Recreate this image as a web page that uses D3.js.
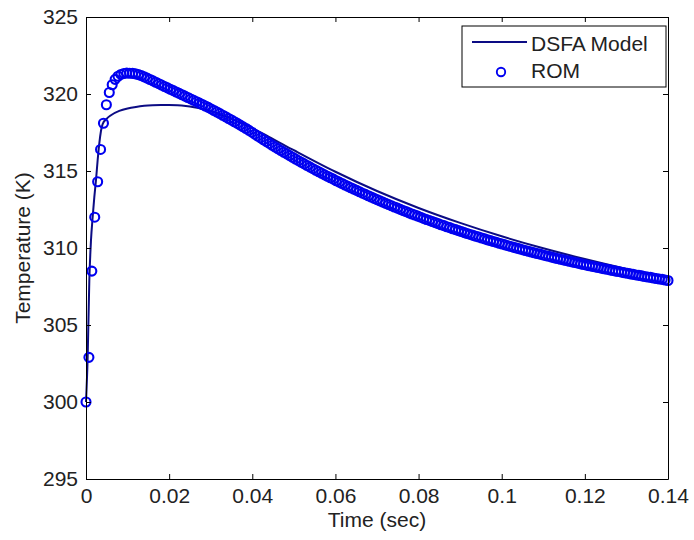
<!DOCTYPE html>
<html>
<head>
<meta charset="utf-8">
<script src="https://cdn.jsdelivr.net/npm/d3@7"></script>
<style>
  body { margin: 0; background: #fff; }
  text { font-family: Arial, "Liberation Sans", sans-serif; }
</style>
</head>
<body>
<svg id="chart" width="694" height="540"></svg>
<script>
const xTicks = [0, 0.02, 0.04, 0.06, 0.08, 0.1, 0.12, 0.14];
const xTickLabels = ["0", "0.02", "0.04", "0.06", "0.08", "0.1", "0.12", "0.14"];
const yTicks = [295, 300, 305, 310, 315, 320, 325];
const seriesNames = ["DSFA Model", "ROM"];

// DSFA model curve (sec, K)
const modelTime = [0, 0.0004, 0.0008, 0.0012, 0.0016, 0.002, 0.0024, 0.0028, 0.0032, 0.0036,
  0.004, 0.005, 0.006, 0.008, 0.01, 0.012, 0.014, 0.016, 0.018, 0.02,
  0.022, 0.024, 0.026, 0.028, 0.03, 0.032, 0.035, 0.04, 0.044, 0.05,
  0.06, 0.07, 0.08, 0.09, 0.1, 0.11, 0.12, 0.13, 0.14];
const modelTemp = [300.0, 302.9, 307.9, 310.5, 312.0, 313.3, 314.4, 315.7, 316.8, 317.6,
  318.05, 318.4, 318.62, 318.9, 319.06, 319.16, 319.23, 319.27, 319.29, 319.29,
  319.27, 319.22, 319.14, 319.03, 318.88, 318.7, 318.38, 317.78, 317.22, 316.35,
  314.95, 313.7, 312.6, 311.63, 310.76, 309.98, 309.28, 308.64, 308.08];

// ROM samples, one every romStep seconds from t = 0
const romStep = 0.0007;
const romTemp = [
  300.0, 302.9, 308.5, 312.0, 314.3, 316.4, 318.1, 319.3, 320.1, 320.6,
  320.95, 321.15, 321.27, 321.33, 321.36, 321.35, 321.34, 321.31, 321.26, 321.19,
  321.11, 321.03, 320.94, 320.85, 320.76, 320.67, 320.58, 320.49, 320.40, 320.31,
  320.22, 320.13, 320.04, 319.95, 319.86, 319.77, 319.68, 319.59, 319.50, 319.41,
  319.32, 319.22, 319.13, 319.03, 318.93, 318.83, 318.73, 318.62, 318.52, 318.41,
  318.31, 318.20, 318.09, 317.98, 317.87, 317.76, 317.64, 317.52, 317.39, 317.27,
  317.15, 317.03, 316.91, 316.79, 316.67, 316.56, 316.44, 316.33, 316.22, 316.11,
  316.00, 315.89, 315.78, 315.67, 315.57, 315.46, 315.36, 315.25, 315.15, 315.05,
  314.95, 314.85, 314.75, 314.66, 314.56, 314.47, 314.37, 314.28, 314.19, 314.09,
  314.00, 313.91, 313.82, 313.74, 313.65, 313.56, 313.48, 313.39, 313.31, 313.22,
  313.14, 313.06, 312.98, 312.90, 312.82, 312.74, 312.66, 312.59, 312.51, 312.43,
  312.36, 312.28, 312.21, 312.14, 312.07, 312.00, 311.92, 311.85, 311.79, 311.72,
  311.65, 311.58, 311.51, 311.45, 311.38, 311.32, 311.25, 311.19, 311.13, 311.07,
  311.00, 310.94, 310.88, 310.82, 310.76, 310.71, 310.65, 310.59, 310.53, 310.48,
  310.42, 310.37, 310.31, 310.26, 310.20, 310.15, 310.10, 310.04, 309.99, 309.94,
  309.89, 309.84, 309.79, 309.74, 309.69, 309.64, 309.60, 309.55, 309.50, 309.46,
  309.41, 309.36, 309.32, 309.27, 309.23, 309.19, 309.14, 309.10, 309.06, 309.02,
  308.97, 308.93, 308.89, 308.85, 308.81, 308.77, 308.73, 308.69, 308.65, 308.62,
  308.58, 308.54, 308.50, 308.47, 308.43, 308.39, 308.36, 308.32, 308.29, 308.25,
  308.22, 308.19, 308.15, 308.12, 308.09, 308.05, 308.02, 307.99, 307.96, 307.92,
  307.89];

const lineColor = "#0c0c84";
const markColor = "#0000f0";
const markRadius = 4.5;
const margin = { top: 17, right: 26, bottom: 61, left: 86 };
const width = 694, height = 540;

const svg = d3.select("#chart");

const x = d3.scaleLinear()
  .domain([0, 0.14])
  .range([margin.left, width - margin.right]);

const y = d3.scaleLinear()
  .domain([295, 325])
  .range([height - margin.bottom, margin.top]);

const model = modelTime.map((t, i) => ({ t, v: modelTemp[i] }));
const rom = romTemp.map((v, i) => ({ t: i * romStep, v }));

// data
svg.append("path")
  .datum(model)
  .attr("fill", "none")
  .attr("stroke", lineColor)
  .attr("stroke-width", 2)
  .attr("d", d3.line().x(d => x(d.t)).y(d => y(d.v)).curve(d3.curveMonotoneX));

svg.append("g")
  .selectAll("circle")
  .data(rom)
  .join("circle")
  .attr("cx", d => x(d.t))
  .attr("cy", d => y(d.v))
  .attr("r", markRadius)
  .attr("fill", "none")
  .attr("stroke", markColor)
  .attr("stroke-width", 2.1);

// axes, ticks pointing inward on all four sides
const fontSize = 21;
const styleAxis = g => {
  g.select(".domain").attr("stroke", "#000").attr("stroke-width", 1);
  g.selectAll(".tick line").attr("stroke", "#000");
  g.selectAll(".tick text")
    .attr("fill", "#222")
    .attr("font-size", fontSize)
    .attr("font-family", "Arial, 'Liberation Sans', sans-serif");
};

svg.append("g")
  .attr("transform", `translate(0,${height - margin.bottom})`)
  .call(d3.axisBottom(x).tickValues(xTicks).tickFormat((d, i) => xTickLabels[i])
    .tickSizeInner(-5).tickSizeOuter(0).tickPadding(9))
  .call(styleAxis);

svg.append("g")
  .attr("transform", `translate(0,${margin.top})`)
  .call(d3.axisTop(x).tickValues(xTicks).tickFormat("")
    .tickSizeInner(-5).tickSizeOuter(0))
  .call(styleAxis);

svg.append("g")
  .attr("transform", `translate(${margin.left},0)`)
  .call(d3.axisLeft(y).tickValues(yTicks).tickFormat(d3.format("d"))
    .tickSizeInner(-5).tickSizeOuter(0).tickPadding(8))
  .call(styleAxis);

svg.append("g")
  .attr("transform", `translate(${width - margin.right},0)`)
  .call(d3.axisRight(y).tickValues(yTicks).tickFormat("")
    .tickSizeInner(-5).tickSizeOuter(0))
  .call(styleAxis);

svg.append("text")
  .attr("x", (x.range()[0] + x.range()[1]) / 2)
  .attr("y", 527)
  .attr("text-anchor", "middle")
  .attr("font-size", fontSize)
  .attr("fill", "#222")
  .text("Time (sec)");

svg.append("text")
  .attr("transform", `translate(30,${(y.range()[0] + y.range()[1]) / 2}) rotate(-90)`)
  .attr("text-anchor", "middle")
  .attr("font-size", fontSize)
  .attr("fill", "#222")
  .text("Temperature (K)");

// legend
const legend = svg.append("g").attr("transform", "translate(462,26)");

legend.append("rect")
  .attr("width", 204)
  .attr("height", 61)
  .attr("fill", "#fff")
  .attr("stroke", "#000")
  .attr("stroke-width", 1);

legend.append("line")
  .attr("x1", 10).attr("x2", 65)
  .attr("y1", 16).attr("y2", 16)
  .attr("stroke", lineColor)
  .attr("stroke-width", 2);

legend.append("circle")
  .attr("cx", 39).attr("cy", 46)
  .attr("r", 4.2)
  .attr("fill", "none")
  .attr("stroke", markColor)
  .attr("stroke-width", 1.9);

legend.selectAll(".label")
  .data(seriesNames)
  .join("text")
  .attr("class", "label")
  .attr("x", 69)
  .attr("y", (d, i) => 25 + i * 27)
  .attr("font-size", fontSize)
  .attr("fill", "#222")
  .text(d => d);
</script>
</body>
</html>
